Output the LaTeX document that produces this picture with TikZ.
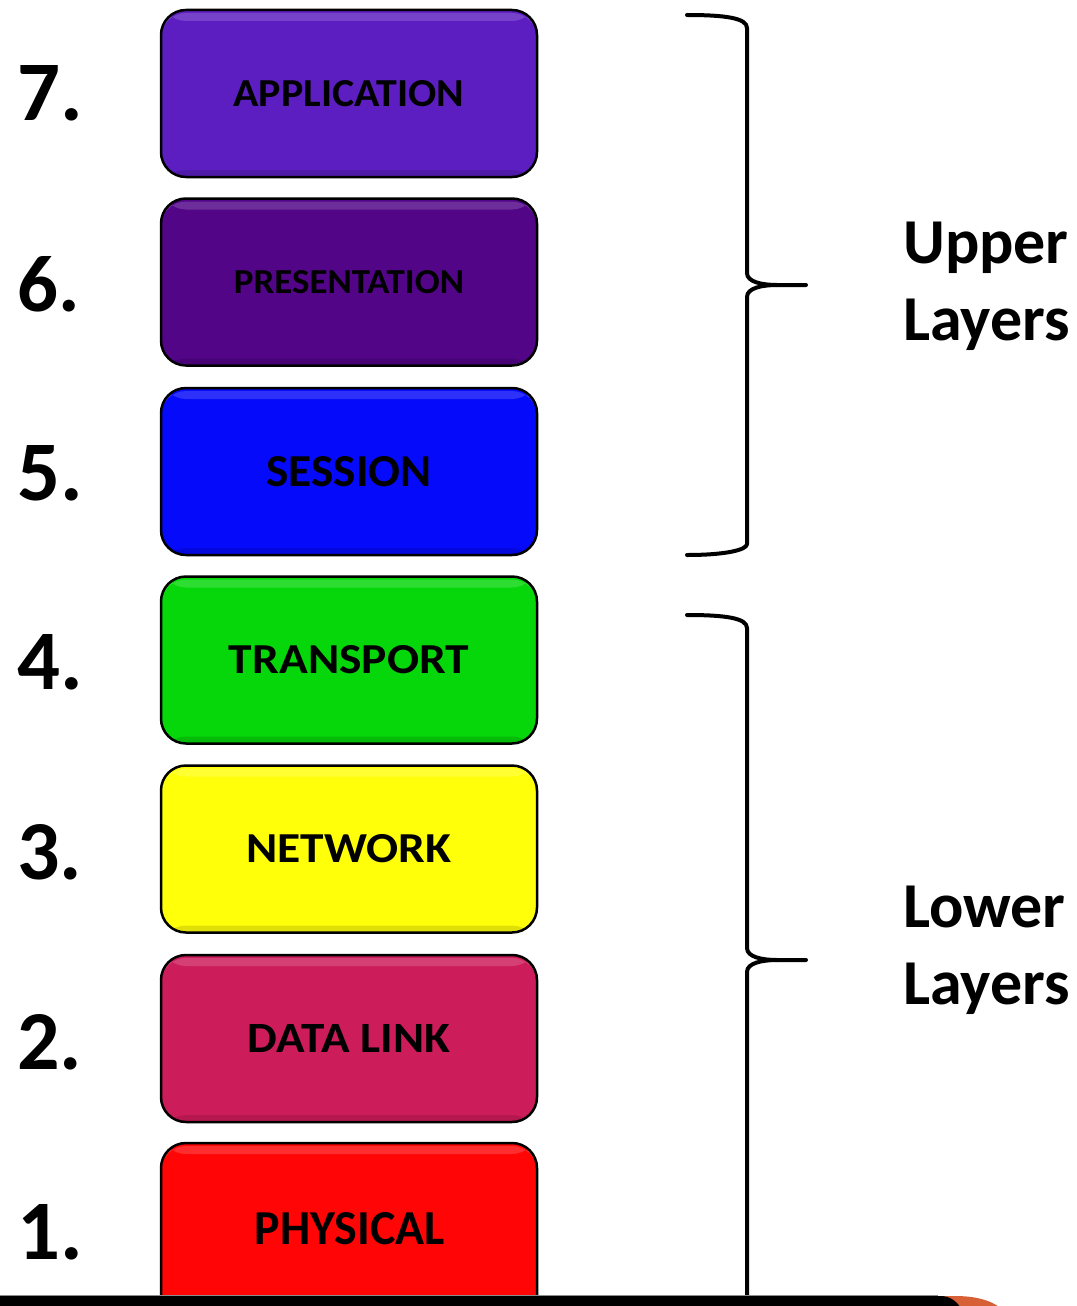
\documentclass[tikz,border=0pt]{standalone}
\usepackage{fontspec}
\setmainfont{Carlito}
\usepackage{graphicx}
\definecolor{cApp}{RGB}{92,30,192}
\definecolor{cPre}{RGB}{82,5,135}
\definecolor{cSes}{RGB}{5,10,250}
\definecolor{cTra}{RGB}{5,215,10}
\definecolor{cNet}{RGB}{255,255,10}
\definecolor{cDat}{RGB}{205,28,90}
\definecolor{cPhy}{RGB}{255,5,5}
\definecolor{cOrg}{RGB}{215,96,55}
\newcommand{\lbl}[3]{\resizebox{#1pt}{#2pt}{\bfseries #3}}
\tikzset{
  layer/.style={draw=black, line width=2.5pt, rounded corners=25pt,
    minimum width=376pt, minimum height=167pt, inner sep=0pt,
    path picture={
      \fill[white,opacity=0.16] ([yshift=-3pt]path picture bounding box.north west) rectangle ([yshift=-11pt]path picture bounding box.north east);
      \fill[black,opacity=0.12] ([yshift=7pt]path picture bounding box.south west) rectangle (path picture bounding box.south east);
    }},
  num/.style={anchor=west, inner sep=0pt},
  bracel/.style={line width=4pt, line cap=round, line join=round},
  side/.style={anchor=west, inner sep=0pt, align=left, font=\bfseries\fontsize{64}{77}\selectfont}
}
\begin{document}
\begin{tikzpicture}[x=1pt,y=-1pt]
\useasboundingbox (0,0) rectangle (1076,1306);
\clip (0,0) rectangle (1076,1306);
\fill[white] (0,0) rectangle (1076,1306);

% layers
\node[layer, fill=cApp] (l7) at (349,93.5) {\lbl{231}{26}{APPLICATION}};
\node[layer, fill=cPre] (l6) at (349,282) {\lbl{230}{23}{PRESENTATION}};
\node[layer, fill=cSes] (l5) at (349,471.5) {\lbl{165}{30}{SESSION}};
\node[layer, fill=cTra] (l4) at (349,660) {\lbl{240}{28}{TRANSPORT}};
\node[layer, fill=cNet] (l3) at (349,849) {\lbl{205}{28}{NETWORK}};
\node[layer, fill=cDat] (l2) at (349,1038.5) {\lbl{202}{28}{DATA LINK}};
\node[layer, fill=cPhy, minimum height=180pt] (l1) at (349,1233) {};
\node (t1) at (350,1229) {\lbl{190}{32}{PHYSICAL}};

% numbers
\node[num] (n7) at (17,93) {\resizebox{!}{55pt}{\bfseries 7.}};
\node[num] (n6) at (17,284) {\resizebox{!}{55pt}{\bfseries 6.}};
\node[num] (n5) at (17,473) {\resizebox{!}{55pt}{\bfseries 5.}};
\node[num] (n4) at (17,662) {\resizebox{!}{55pt}{\bfseries 4.}};
\node[num] (n3) at (17,852) {\resizebox{!}{55pt}{\bfseries 3.}};
\node[num] (n2) at (17,1042) {\resizebox{!}{55pt}{\bfseries 2.}};
\node[num] (n1) at (17,1232) {\resizebox{!}{55pt}{\bfseries 1.}};

% upper brace
\draw[bracel] (687,15) .. controls (725,15) and (747,18) .. (747,28) -- (747,273)
  .. controls (747,282) and (762,285) .. (777,285) -- (806,285);
\draw[bracel] (777,285) .. controls (762,285) and (747,288) .. (747,297) -- (747,544)
  .. controls (747,550) and (725,555) .. (687,555);
% lower brace
\draw[bracel] (687,615) .. controls (725,615) and (747,618) .. (747,628) -- (747,948)
  .. controls (747,957) and (762,960) .. (777,960) -- (806,960);
\draw[bracel] (777,960) .. controls (762,960) and (747,963) .. (747,972) -- (747,1310);

% side labels
\node[side] (up) at (903,286) {Upper\\Layers};
\node[side] (lo) at (903,950) {Lower\\Layers};

% bottom bar
\fill[cOrg] (925,1310) -- (925,1296) -- (955,1296) .. controls (975,1296) and (992,1300) .. (1003,1310) -- cycle;
\fill[black] (0,1310) -- (0,1296) -- (940,1296) .. controls (950,1296) and (957,1301) .. (962,1310) -- cycle;
\draw[black!45, line width=0.8pt] (0,1295.5) -- (938,1295.5);
\end{tikzpicture}
\end{document}
